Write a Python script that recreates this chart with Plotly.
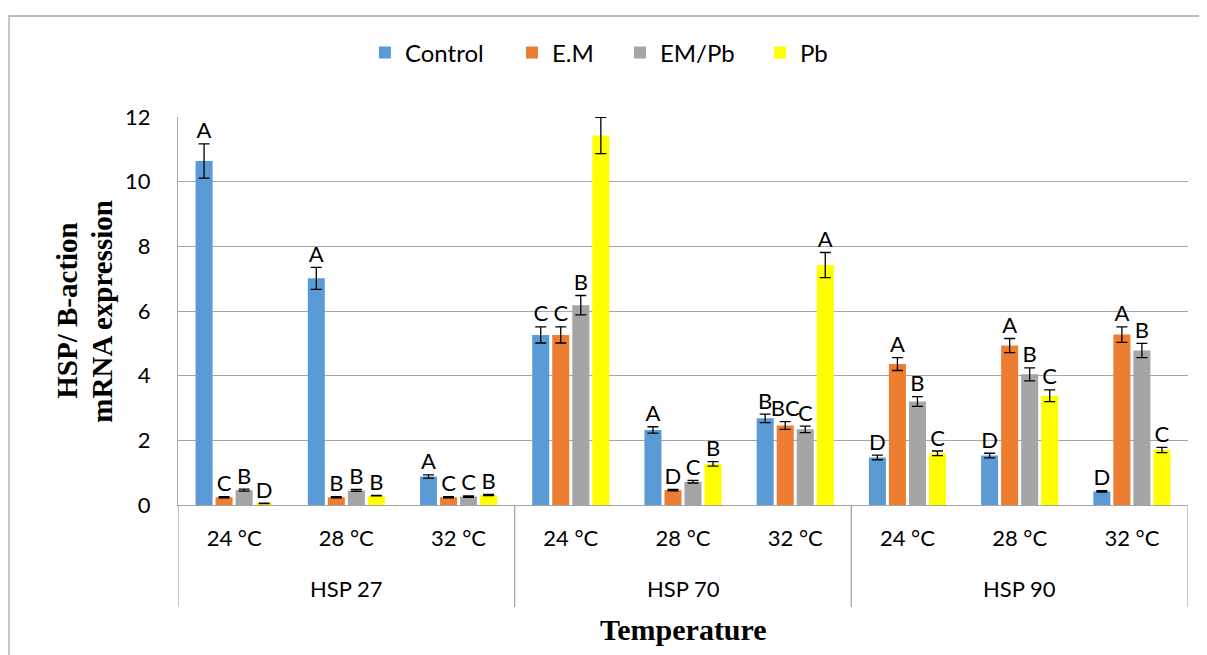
import plotly.graph_objects as go

groups = ["HSP 27"] * 3 + ["HSP 70"] * 3 + ["HSP 90"] * 3
temps = ["24 °C", "28 °C", "32 °C"] * 3
group_names = ["HSP 27", "HSP 70", "HSP 90"]

control = [10.64, 7.01, 0.88, 5.26, 2.32, 2.68, 1.47, 1.53, 0.42]
control_err = [0.53, 0.34, 0.05, 0.25, 0.10, 0.13, 0.07, 0.07, 0.02]
em = [0.24, 0.24, 0.24, 5.26, 0.46, 2.46, 4.36, 4.93, 5.27]
em_err = [0.02, 0.02, 0.02, 0.25, 0.02, 0.12, 0.20, 0.22, 0.24]
empb = [0.46, 0.45, 0.26, 6.18, 0.72, 2.34, 3.20, 4.04, 4.78]
empb_err = [0.03, 0.03, 0.02, 0.30, 0.04, 0.10, 0.15, 0.20, 0.22]
pb = [0.05, 0.29, 0.31, 11.43, 1.27, 7.42, 1.60, 3.38, 1.70]
pb_err = [0.01, 0.01, 0.02, 0.56, 0.07, 0.39, 0.07, 0.18, 0.08]

control_lbl = ["A", "A", "A", "C", "A", "B", "D", "D", "D"]
em_lbl = ["C", "B", "C", "C", "D", "BC", "A", "A", "A"]
empb_lbl = ["B", "B", "C", "B", "C", "C", "B", "B", "B"]
pb_lbl = ["D", "B", "B", "A", "B", "A", "C", "C", "C"]

series = [
    ("Control", control, control_err, control_lbl, "#5b9bd5"),
    ("E.M", em, em_err, em_lbl, "#ed7d31"),
    ("EM/Pb", empb, empb_err, empb_lbl, "#a5a5a5"),
    ("Pb", pb, pb_err, pb_lbl, "#ffff00"),
]

FONT = "Lato, 'Open Sans', sans-serif"
SERIF = "'Liberation Serif', 'Times New Roman', serif"
GRID = "#a6a6a6"

xpos = list(range(len(temps)))
legend_ids = ["legend", "legend2", "legend3", "legend4"]
legend_x = [0.1851, 0.3307, 0.4376, 0.5762]

fig = go.Figure()
for (name, vals, errs, lbls, col), lid in zip(series, legend_ids):
    fig.add_trace(go.Bar(
        name=name, x=xpos, y=vals, offsetgroup=name, legend=lid,
        marker=dict(color=col, line=dict(width=0)),
        error_y=dict(type="data", array=errs, visible=True,
                     color="black", thickness=1.3, width=5.5),
    ))
for name, vals, errs, lbls, col in series:
    fig.add_trace(go.Scatter(
        x=xpos, y=[v + e for v, e in zip(vals, errs)],
        mode="text", text=lbls, textposition="top center",
        textfont=dict(family=FONT, size=22, color="black"),
        offsetgroup=name, showlegend=False, hoverinfo="skip",
    ))

annotations = []
shapes = []
n_per = len(temps) // len(group_names)
for gi, g in enumerate(group_names):
    members = [x for x, gg in zip(xpos, groups) if gg == g]
    annotations.append(dict(
        text=g, x=sum(members) / len(members), xref="x", y=-0.216,
        yref="paper", showarrow=False, xanchor="center", yanchor="middle",
        font=dict(family=FONT, size=22, color="black")))
bounds = [-0.5] + [gi * n_per + n_per - 0.5 for gi in range(len(group_names))]
for b in bounds:
    shapes.append(dict(type="line", xref="x", yref="paper", x0=b, x1=b,
                       y0=0, y1=-0.263, line=dict(color=GRID, width=1.3)))

annotations += [
    dict(text="<b>HSP/ B-action</b>", xref="paper", yref="paper",
         x=-0.1102, y=0.5, textangle=-90, showarrow=False,
         font=dict(family=SERIF, size=29, color="black"),
         xanchor="center", yanchor="middle"),
    dict(text="<b>mRNA expression</b>", xref="paper", yref="paper",
         x=-0.0756, y=0.5, textangle=-90, showarrow=False,
         font=dict(family=SERIF, size=29, color="black"),
         xanchor="center", yanchor="middle"),
    dict(text="<b>Temperature</b>", xref="paper", yref="paper",
         x=0.5, y=-0.322, showarrow=False, xanchor="center", yanchor="middle",
         font=dict(family=SERIF, size=30, color="black")),
]
shapes.append(dict(type="rect", xref="paper", yref="paper",
                   x0=-0.1673, x1=1.0168, y0=-0.45, y1=1.2603,
                   line=dict(color=GRID, width=1.3), layer="below"))

legend_layout = {}
for lid, lx in zip(legend_ids, legend_x):
    legend_layout[lid] = dict(
        orientation="h", x=lx, xanchor="left", y=1.165, yanchor="middle",
        bgcolor="rgba(0,0,0,0)",
        font=dict(family=FONT, size=24, color="black"))

fig.update_layout(
    width=1199, height=647,
    margin=dict(l=170, r=19, t=109, b=150),
    paper_bgcolor="white", plot_bgcolor="white",
    barmode="group", bargap=0.286, bargroupgap=0.15,
    scattermode="group", scattergap=0.286,
    font=dict(family=FONT, size=22, color="black"),
    xaxis=dict(range=[-0.5, 8.5], tickmode="array", tickvals=xpos,
               ticktext=temps, showline=True, linecolor=GRID, linewidth=1.3,
               showgrid=False, zeroline=False,
               ticks="outside", ticklen=13, tickcolor="rgba(0,0,0,0)",
               tickfont=dict(family=FONT, size=22, color="black")),
    yaxis=dict(range=[0, 12], dtick=2, showgrid=True, gridcolor=GRID,
               gridwidth=1.3, zeroline=False, showline=True, linecolor=GRID,
               linewidth=1.3,
               ticks="outside", ticklen=22, tickcolor="rgba(0,0,0,0)",
               tickfont=dict(family=FONT, size=22, color="black")),
    annotations=annotations,
    shapes=shapes,
    **legend_layout,
)

fig.write_html("out.html")
